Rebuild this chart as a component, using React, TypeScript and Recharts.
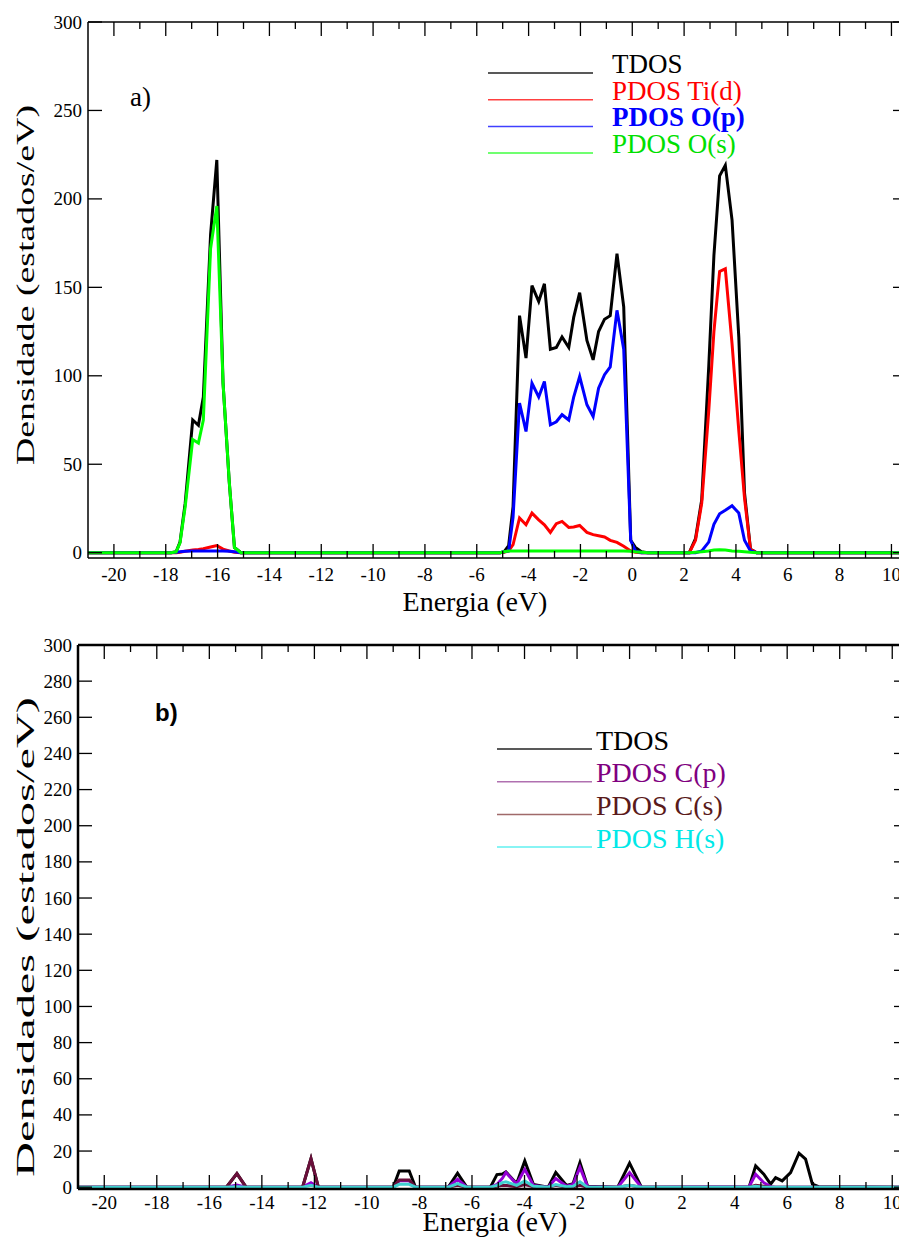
import React from "react";
import { LineChart, Line, XAxis, YAxis } from "recharts";

// ---- panel a) : TiO2 ----
const ENERGY_A = [
  -21, -17.8, -17.6, -17.45, -17.25, -16.96, -16.74, -16.55, -16.27, -16.03, -15.79, -15.55, -15.35, -15.1,
  -5.1, -4.95, -4.77, -4.6, -4.35, -4.1, -3.87, -3.61, -3.39, -3.16, -2.93, -2.71, -2.45, -2.26, -2.03,
  -1.75, -1.51, -1.3, -1.07, -0.85, -0.59, -0.33, -0.06, 0.12, 0.35, 0.6,
  2.0, 2.2, 2.44, 2.68, 2.95, 3.15, 3.37, 3.59, 3.85, 4.11, 4.33, 4.56, 4.8, 10.6,
];
const TDOS_A = [
  0, 0, 0.5, 6, 28, 75, 72, 88, 180, 222, 96, 40, 3, 0,
  0, 0.5, 4, 26, 134, 110, 151, 142, 152, 115, 116, 122, 116, 133, 147,
  120, 109, 125, 132, 134, 169, 139, 7, 3, 0.5, 0,
  0, 0, 8, 30, 105, 168, 213, 219, 188, 122, 34, 2, 0, 0,
];
const TI_D = [
  0, 0, 0, 0.3, 0.8, 1.5, 1.8, 2.2, 3.2, 4, 2, 1, 0.3, 0,
  0, 0.3, 1, 4.5, 19.6, 15.8, 22.4, 18.6, 15.8, 11.5, 16.4, 17.7, 14.3, 14.5, 15.4,
  11.5, 10.2, 9.6, 8.9, 7, 5.8, 3.6, 1, 0.2, 0, 0,
  0, 0, 7, 28, 80, 125, 159, 160.5, 118, 69, 31, 2, 0, 0,
];
const O_P = [
  0, 0, 0.3, 0.5, 0.8, 1, 1, 1, 1, 1, 1, 0.8, 0.5, 0,
  0, 0.5, 1, 20, 84.6, 68.5, 95.8, 88, 96.8, 72.3, 74, 78, 75, 88, 99.6,
  83.6, 77, 93, 100.6, 105, 137, 115, 7, 1, 0, 0,
  0, 0, 0, 1, 6, 16, 22, 24, 26.5, 22.4, 7, 1, 0, 0,
];
const O_S = [
  0, 0, 0.5, 5.6, 26, 64, 62, 75, 172, 196, 96, 40, 3, 0,
  0, 0.5, 1, 1, 1, 1, 1, 1, 1, 1, 1, 1, 1, 1, 1,
  1, 1, 1, 1, 1, 1, 1, 0.8, 0.5, 0.3, 0,
  0, 0, 0.3, 0.5, 1, 1.5, 1.6, 1.5, 1, 0.8, 0.5, 0.2, 0, 0,
];

// ---- panel b) : adsorbed molecule ----
const ENERGY_B = [
  -21, -15.35, -14.95, -14.6, -12.45, -12.13, -11.85, -9.0, -8.77, -8.39, -8.15, -6.9, -6.55, -6.2,
  -5.3, -5.05, -4.84, -4.71, -4.3, -3.99, -3.66, -3.1, -2.81, -2.4, -2.15, -1.89, -1.6,
  -0.45, 0.0, 0.45, 4.55, 4.8, 5.11, 5.37, 5.56, 5.81, 6.13, 6.45, 6.7, 6.96, 7.2, 10.6,
];
const TDOS_B = [
  0, 0, 7.5, 0, 0, 15.8, 0, 0, 9, 9, 0, 0, 7.7, 0,
  0, 7, 7.3, 8.5, 2, 14.5, 1.5, 0, 8.1, 1, 2, 13.6, 0.5,
  0, 13.3, 0, 0, 11.8, 7.2, 1.7, 5.3, 3.5, 8.1, 18.8, 15.5, 1.7, 0.3, 0,
];
const C_P = [
  0, 0, 1.2, 0, 0, 2.5, 0, 0, 3.5, 3.5, 0, 0, 4.4, 0,
  0, 1.5, 5, 8.1, 1.7, 9.9, 1, 0, 4.8, 0.5, 1.5, 11, 0.3,
  0, 8.1, 0, 0.3, 7.2, 2.5, 0.3, 0, 0, 0, 0, 0, 0, 0, 0,
];
const C_S = [
  0, 0, 7.5, 0, 0, 15.8, 0, 0, 4, 4, 0, 0, 1, 0,
  0, 0.5, 1, 1, 0.3, 1.5, 0.3, 0, 1, 0, 0.3, 1, 0,
  0, 1, 0, 0, 1, 0.5, 0, 0, 0, 0, 0, 0, 0, 0, 0,
];
const H_S = [
  0, 0, 0.3, 0, 0, 1, 0, 0, 1.6, 1.6, 0, 0, 2, 0,
  0, 1, 2.5, 3, 1, 3.5, 0.5, 0, 1.5, 0.3, 0.5, 3, 0,
  0, 1, 0, 0, 0.5, 0, 0, 0, 0, 0, 0, 0, 0, 0, 0,
];

const X_TICKS = [
  -20, -19, -18, -17, -16, -15, -14, -13, -12, -11, -10, -9, -8, -7, -6, -5, -4, -3, -2, -1,
  0, 1, 2, 3, 4, 5, 6, 7, 8, 9, 10,
];
const Y_TICKS_A = [0, 50, 100, 150, 200, 250, 300];
const Y_TICKS_B = [0, 20, 40, 60, 80, 100, 120, 140, 160, 180, 200, 220, 240, 260, 280, 300];

const SERIES_A = [
  { key: "tdos", name: "TDOS", values: TDOS_A, color: "#000000", text: "#000000", legendLine: "#222222", bold: false },
  { key: "tid", name: "PDOS Ti(d)", values: TI_D, color: "#ff0000", text: "#ff0000", legendLine: "#ff4040", bold: false },
  { key: "op", name: "PDOS O(p)", values: O_P, color: "#0000ff", text: "#0000ff", legendLine: "#4040ff", bold: true },
  { key: "os", name: "PDOS O(s)", values: O_S, color: "#00ff00", text: "#00e000", legendLine: "#40ff40", bold: false },
];
const SERIES_B = [
  { key: "tdos", name: "TDOS", values: TDOS_B, color: "#000000", text: "#000000", legendLine: "#222222" },
  { key: "cp", name: "PDOS C(p)", values: C_P, color: "#9400d3", text: "#800080", legendLine: "#b070b0" },
  { key: "cs", name: "PDOS C(s)", values: C_S, color: "#6a0f3a", text: "#5a1a1a", legendLine: "#a06a6a" },
  { key: "hs", name: "PDOS H(s)", values: H_S, color: "#40d0d0", text: "#00e8e8", legendLine: "#60f0f0" },
];

const SERIF = "'Liberation Serif', 'DejaVu Serif', serif";

function buildRows(energy: number[], series: { key: string; values: number[] }[]) {
  return energy.map((e, i) => {
    const row: Record<string, number> = { e };
    series.forEach((s) => (row[s.key] = s.values[i]));
    return row;
  });
}

const BottomTick = (props: any) => {
  const { x, y, payload, labelGap } = props;
  const major = payload.value % 2 === 0;
  return (
    <g>
      <line x1={x} x2={x} y1={y} y2={y - (major ? 14 : 7)} stroke="#000" strokeWidth={1.3} />
      {major && (
        <text x={x} y={y + labelGap} textAnchor="middle" dominantBaseline="central" fontSize={19} fontFamily={SERIF} fill="#000">
          {payload.value}
        </text>
      )}
    </g>
  );
};

const TopTick = (props: any) => {
  const { x, y, payload } = props;
  const major = payload.value % 2 === 0;
  return <line x1={x} x2={x} y1={y} y2={y + (major ? 14 : 7)} stroke="#000" strokeWidth={1.3} />;
};

const LeftTick = (props: any) => {
  const { x, y, payload } = props;
  return (
    <g>
      <line x1={x} x2={x + 14} y1={y} y2={y} stroke="#000" strokeWidth={1.3} />
      <text x={x - 6} y={y} textAnchor="end" dominantBaseline="central" fontSize={19} fontFamily={SERIF} fill="#000">
        {payload.value}
      </text>
    </g>
  );
};

const RightTick = (props: any) => {
  const { x, y } = props;
  return <line x1={x} x2={x - 14} y1={y} y2={y} stroke="#000" strokeWidth={1.3} />;
};

function DosPanel({
  rows,
  series,
  yTicks,
  yDomain,
  height,
  margin,
  leftWidth,
  bottomHeight,
  axisWidth,
  labelGap,
}: {
  rows: Record<string, number>[];
  series: { key: string; color: string }[];
  yTicks: number[];
  yDomain: [number, number];
  height: number;
  margin: { top: number; right: number; bottom: number; left: number };
  leftWidth: number;
  bottomHeight: number;
  axisWidth: number;
  labelGap: number;
}) {
  const axisLine = { stroke: "#000", strokeWidth: axisWidth };
  return (
    <LineChart width={920} height={height} data={rows} margin={margin}>
      <XAxis
        xAxisId="b"
        dataKey="e"
        type="number"
        domain={[-21, 10.6]}
        ticks={X_TICKS}
        interval={0}
        tickSize={0}
        tickMargin={0}
        tickLine={false}
        tick={<BottomTick labelGap={labelGap} />}
        axisLine={axisLine}
        height={bottomHeight}
        allowDataOverflow
      />
      <XAxis
        xAxisId="t"
        orientation="top"
        dataKey="e"
        type="number"
        domain={[-21, 10.6]}
        ticks={X_TICKS}
        interval={0}
        tickSize={0}
        tickMargin={0}
        tickLine={false}
        tick={<TopTick />}
        axisLine={axisLine}
        height={1}
        allowDataOverflow
      />
      <YAxis
        yAxisId="l"
        type="number"
        domain={yDomain}
        ticks={yTicks}
        interval={0}
        tickSize={0}
        tickMargin={0}
        tickLine={false}
        tick={<LeftTick />}
        axisLine={axisLine}
        width={leftWidth}
        allowDataOverflow
      />
      <YAxis
        yAxisId="r"
        orientation="right"
        type="number"
        domain={yDomain}
        ticks={yTicks}
        interval={0}
        tickSize={0}
        tickMargin={0}
        tickLine={false}
        tick={<RightTick />}
        axisLine={axisLine}
        width={1}
        allowDataOverflow
      />
      {series.map((s) => (
        <Line
          key={s.key}
          xAxisId="b"
          yAxisId="l"
          type="linear"
          dataKey={s.key}
          stroke={s.color}
          strokeWidth={3}
          dot={false}
          isAnimationActive={false}
          strokeLinejoin="miter"
        />
      ))}
    </LineChart>
  );
}

export default function App() {
  const rowsA = React.useMemo(() => buildRows(ENERGY_A, SERIES_A), []);
  const rowsB = React.useMemo(() => buildRows(ENERGY_B, SERIES_B), []);

  return (
    <div style={{ position: "absolute", left: 0, top: 0, width: 899, height: 1239, overflow: "hidden", background: "#fff" }}>
      <div style={{ position: "absolute", left: 0, top: 0 }}>
        <DosPanel
          rows={rowsA}
          series={SERIES_A}
          yTicks={Y_TICKS_A}
          yDomain={[-3, 300]}
          height={620}
          margin={{ top: 21, right: 12, bottom: 0, left: 0 }}
          leftWidth={88}
          bottomHeight={62}
          axisWidth={1.5}
          labelGap={16}
        />
      </div>
      <div style={{ position: "absolute", left: 0, top: 620 }}>
        <DosPanel
          rows={rowsB}
          series={SERIES_B}
          yTicks={Y_TICKS_B}
          yDomain={[-1, 300]}
          height={619}
          margin={{ top: 24, right: 11, bottom: 0, left: 0 }}
          leftWidth={78}
          bottomHeight={50}
          axisWidth={2.5}
          labelGap={13}
        />
      </div>
      <svg width={899} height={1239} style={{ position: "absolute", left: 0, top: 0, pointerEvents: "none" }}>
        <text x={130} y={97} dominantBaseline="central" fontSize={27} fontFamily={SERIF}>a)</text>
        <text x={475} y={601} textAnchor="middle" dominantBaseline="central" fontSize={28} fontFamily={SERIF}>Energia (eV)</text>
        <text
          transform="translate(25,285) rotate(-90)"
          textAnchor="middle"
          dominantBaseline="central"
          fontSize={25}
          fontFamily={SERIF}
          textLength={360}
          lengthAdjust="spacingAndGlyphs"
        >
          Densidade (estados/eV)
        </text>
        {SERIES_A.map((s, i) => {
          const ly = 73 + i * 26.7;
          return (
            <g key={s.key}>
              <line x1={488} x2={593} y1={ly} y2={ly} stroke={s.legendLine} strokeWidth={1.5} />
              <text x={612} y={ly - 9} dominantBaseline="central" fontSize={27} fontFamily={SERIF} fill={s.text} fontWeight={s.bold ? "bold" : "normal"}>
                {s.name}
              </text>
            </g>
          );
        })}

        <text x={155} y={712} dominantBaseline="central" fontSize={24} fontWeight="bold" fontFamily="'Liberation Sans', sans-serif">b)</text>
        <text x={495} y={1221} textAnchor="middle" dominantBaseline="central" fontSize={28} fontFamily={SERIF}>Energia (eV)</text>
        <text
          transform="translate(25,937) rotate(-90)"
          textAnchor="middle"
          dominantBaseline="central"
          fontSize={25}
          fontFamily={SERIF}
          textLength={480}
          lengthAdjust="spacingAndGlyphs"
        >
          Densidades (estados/eV)
        </text>
        {SERIES_B.map((s, i) => {
          const ly = 749 + i * 32.7;
          return (
            <g key={s.key}>
              <line x1={497} x2={592} y1={ly} y2={ly} stroke={s.legendLine} strokeWidth={1.5} />
              <text x={596} y={ly - 9} dominantBaseline="central" fontSize={28} fontFamily={SERIF} fill={s.text}>
                {s.name}
              </text>
            </g>
          );
        })}
      </svg>
    </div>
  );
}
